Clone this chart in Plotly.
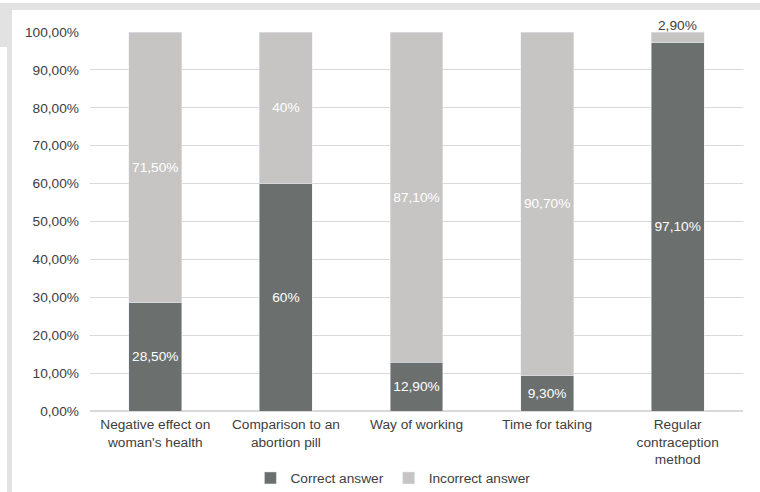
import plotly.graph_objects as go

categories = ["Negative effect on<br>woman's health", "Comparison to an<br>abortion pill",
              "Way of working", "Time for taking", "Regular<br>contraception<br>method"]
correct = [28.5, 60, 12.9, 9.3, 97.1]
incorrect = [71.5, 40, 87.1, 90.7, 2.9]
correct_labels = ["28,50%", "60%", "12,90%", "9,30%", "97,10%"]
incorrect_labels = ["71,50%", "40%", "87,10%", "90,70%", ""]
top_label = "2,90%"
tick_vals = [0, 10, 20, 30, 40, 50, 60, 70, 80, 90, 100]
tick_text = ["0,00%", "10,00%", "20,00%", "30,00%", "40,00%", "50,00%",
             "60,00%", "70,00%", "80,00%", "90,00%", "100,00%"]

DARK = "#6b706f"
LIGHT = "#c6c5c3"
FONT = "Liberation Sans, Arial, sans-serif"
FS = 13.7

fig = go.Figure()
fig.add_bar(x=categories, y=correct, name="Correct answer", marker_color=DARK,
            text=correct_labels, textposition="inside", insidetextanchor="middle",
            textfont=dict(color="white", size=FS, family=FONT))
fig.add_bar(x=categories, y=incorrect, name="Incorrect answer", marker_color=LIGHT,
            text=incorrect_labels, textposition="inside", insidetextanchor="middle",
            textfont=dict(color="white", size=FS, family=FONT))

fig.add_annotation(x=categories[4], y=correct[4] + incorrect[4], text=top_label,
                   showarrow=False, yanchor="bottom", yshift=-3,
                   font=dict(color="#404040", size=FS, family=FONT))

L, R, T, B = 90, 743, 32, 411
W, H = R - L, B - T
def px(x):
    return (x - L) / W
def py(y):
    return (B - y) / H

band = "#e2e2e2"
shapes = [
    dict(type="rect", xref="paper", yref="paper", x0=px(0), x1=px(760), y0=py(10), y1=py(3),
         fillcolor=band, line_width=0, layer="below"),
    dict(type="rect", xref="paper", yref="paper", x0=px(0), x1=px(12), y0=py(47), y1=py(10),
         fillcolor=band, line_width=0, layer="below"),
    dict(type="rect", xref="paper", yref="paper", x0=px(7), x1=px(12), y0=py(492), y1=py(47),
         fillcolor=band, line_width=0, layer="below"),
]

fig.update_layout(
    width=760, height=492,
    margin=dict(l=L, r=760 - R, t=T, b=492 - B, autoexpand=False),
    barmode="stack", bargap=0.595,
    paper_bgcolor="white", plot_bgcolor="white",
    font=dict(family=FONT, size=FS, color="#404040"),
    shapes=shapes,
    showlegend=True,
    legend=dict(orientation="h", xref="container", x=0.517, xanchor="center",
                yref="container", y=1 - 478 / 492, yanchor="middle",
                bgcolor="rgba(0,0,0,0)",
                font=dict(size=FS, color="#404040", family=FONT),
                itemwidth=30, traceorder="normal"),
    uniformtext=dict(mode="show", minsize=FS),
)
fig.update_yaxes(range=[0, 100], tickvals=tick_vals, ticktext=tick_text,
                 showgrid=True, gridcolor="#d9d9d9", gridwidth=1, automargin=False,
                 zeroline=True, zerolinecolor="#d9d9d9", showline=False,
                 ticklabelstandoff=10, tickfont=dict(size=FS, color="#404040"))
fig.update_xaxes(showgrid=False, showline=False, automargin=False,
                 tickfont=dict(size=FS, color="#404040"), ticklabelstandoff=3)

fig.write_html("out.html")
